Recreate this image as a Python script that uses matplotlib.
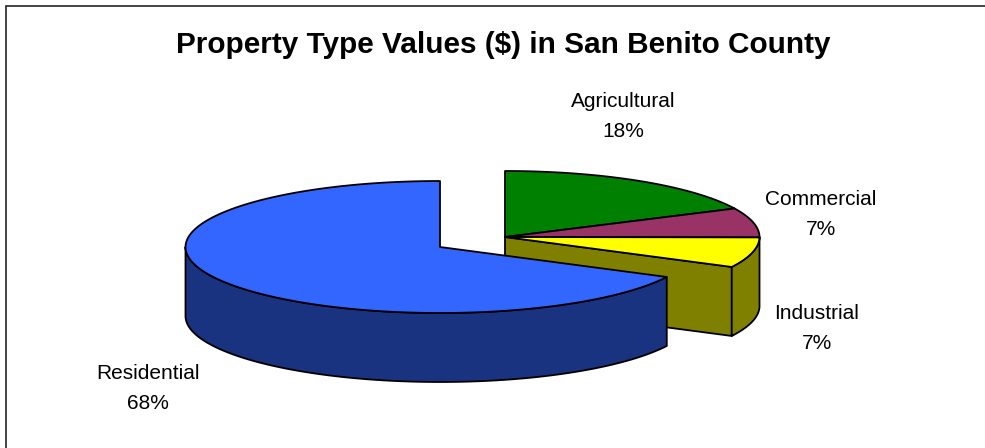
import numpy as np
import matplotlib
matplotlib.use("Agg")
import matplotlib.pyplot as plt
from matplotlib.patches import Polygon, Rectangle

plt.rcParams["font.family"] = ["Liberation Sans", "DejaVu Sans"]

categories = ["Agricultural", "Commercial", "Industrial", "Residential"]
values = [17.9, 7.2, 7.4, 67.5]
top_colors = ["#008000", "#993366", "#FFFF00", "#3366FF"]
side_colors = ["#004000", "#4C1A33", "#808000", "#1A3380"]
label_xy = [(623, 116.5), (821, 214.5), (817, 328.5), (148, 388.5)]

RX, RY, DEPTH = 254.5, 66, 69
GROUP_C = (505, 237)   # the three smaller slices
EXPL_C = (440, 247)    # pulled out residential slice
EDGE = "black"
LW = 1.3


def ell(c, t):
    # t in degrees, clockwise from 12 o'clock
    t = np.radians(t)
    return np.column_stack([c[0] + RX * np.sin(t), c[1] - RY * np.cos(t)])


def arc(t0, t1):
    return np.linspace(t0, t1, 120)


def add_poly(ax, pts, color):
    ax.add_patch(Polygon(pts, closed=True, facecolor=color, edgecolor=EDGE,
                         linewidth=LW, joinstyle="round"))


def outer_wall(ax, c, t0, t1, color):
    top = ell(c, arc(t0, t1))
    add_poly(ax, np.vstack([top, top[::-1] + [0, DEPTH]]), color)


fig = plt.figure(figsize=(9.85, 4.48), dpi=100)
ax = fig.add_axes([0, 0, 1, 1])
ax.set_xlim(0, 985)
ax.set_ylim(448, 0)
ax.axis("off")

# frame is cut off by the image on the right and at the bottom
ax.add_patch(Rectangle((5.5, 6.5), 1000, 460, facecolor="white", edgecolor="#222222",
                       linewidth=1.2))

edges = np.concatenate([[0], np.cumsum(values)]) / np.sum(values) * 360

# --- right hand group: side faces first, then the tops ---
t_end = edges[3]
tip = ell(GROUP_C, [t_end])[0]
add_poly(ax, [GROUP_C, tip, tip + [0, DEPTH], np.array(GROUP_C) + [0, DEPTH]], side_colors[2])
outer_wall(ax, GROUP_C, 90, t_end, side_colors[2])
for i in range(3):
    add_poly(ax, np.vstack([[GROUP_C], ell(GROUP_C, arc(edges[i], edges[i + 1]))]), top_colors[i])

# --- residential slice ---
outer_wall(ax, EXPL_C, edges[3], 270, side_colors[3])
add_poly(ax, np.vstack([[EXPL_C], ell(EXPL_C, arc(edges[3], edges[4]))]), top_colors[3])

for name, v, (x, y) in zip(categories, values, label_xy):
    ax.text(x, y, f"{name}\n{v:.0f}%", ha="center", va="center", fontsize=15,
            linespacing=1.74, color="black")

ax.text(503.5, 45, "Property Type Values ($) in San Benito County", ha="center", va="center",
        fontsize=21.4, fontweight="bold", color="black")

fig.savefig("out.png", dpi=100)
